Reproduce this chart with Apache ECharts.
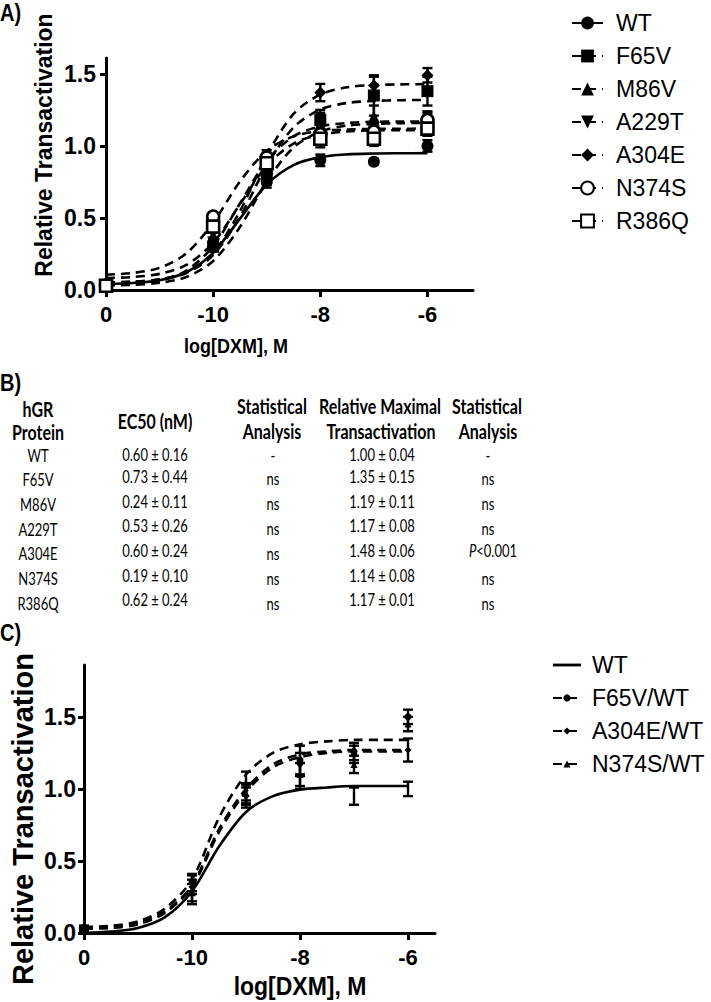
<!DOCTYPE html>
<html><head><meta charset="utf-8">
<script src="https://cdn.jsdelivr.net/npm/echarts@6/dist/echarts.min.js"></script>
<style>html,body{margin:0;padding:0;background:#fff}#c{width:711px;height:1002px}</style>
</head><body><div id="c"></div>
<script>
// ---------- DATA ----------
// x positions: -12 stands for the vehicle ("0") on the broken log axis
const xPoints = [-12, -10, -9, -8, -7, -6];
const curveX = [-12, -11.5, -11, -10.5, -10, -9.5, -9, -8.5, -8, -7.5, -7, -6.5, -6];
const xTickValues = [-12, -10, -8, -6];
const xTickLabels = ['0', '-10', '-8', '-6'];
const yTickValues = [0, 0.5, 1.0, 1.5];
const xTitle = 'log[DXM], M';
const yTitle = 'Relative Transactivation';

// Panel A: variants
const namesA = ['WT', 'F65V', 'M86V', 'A229T', 'A304E', 'N374S', 'R386Q'];
const aWT = [0.03, 0.30, 0.75, 0.90, 0.89, 1.00];
const aF65V = [0.03, 0.30, 0.80, 1.18, 1.35, 1.38];
const aM86V = [0.03, 0.38, 0.85, 1.15, 1.20, 1.17];
const aA229T = [0.02, 0.33, 0.78, 1.12, 1.10, 1.15];
const aA304E = [0.03, 0.33, 0.82, 1.37, 1.42, 1.49];
const aN374S = [0.03, 0.51, 0.92, 1.08, 1.10, 1.18];
const aR386Q = [0.03, 0.44, 0.88, 1.05, 1.05, 1.12];
const aWTErr = [0.01, 0.02, 0.04, 0.04, 0.02, 0.04];
const aF65VErr = [0.01, 0.03, 0.05, 0.07, 0.14, 0.10];
const aM86VErr = [0.01, 0.04, 0.06, 0.08, 0.08, 0.06];
const aA229TErr = [0.01, 0.03, 0.05, 0.06, 0.05, 0.06];
const aA304EErr = [0.01, 0.03, 0.05, 0.06, 0.06, 0.05];
const aN374SErr = [0.01, 0.03, 0.05, 0.07, 0.06, 0.06];
const aR386QErr = [0.01, 0.04, 0.05, 0.06, 0.05, 0.05];
const aWTFit = [0.043, 0.049, 0.068, 0.123, 0.258, 0.495, 0.732, 0.867, 0.922, 0.941, 0.947, 0.949, 0.95];
const aF65VFit = [0.052, 0.057, 0.072, 0.118, 0.242, 0.507, 0.863, 1.128, 1.253, 1.298, 1.312, 1.317, 1.319];
const aM86VFit = [0.034, 0.041, 0.065, 0.134, 0.304, 0.60, 0.896, 1.066, 1.135, 1.159, 1.167, 1.169, 1.17];
const aA229TFit = [0.032, 0.036, 0.050, 0.090, 0.201, 0.437, 0.753, 0.989, 1.100, 1.141, 1.153, 1.158, 1.159];
const aA304EFit = [0.052, 0.058, 0.074, 0.124, 0.258, 0.547, 0.933, 1.222, 1.357, 1.407, 1.422, 1.427, 1.429];
const aN374SFit = [0.106, 0.118, 0.154, 0.254, 0.467, 0.753, 0.966, 1.066, 1.103, 1.114, 1.118, 1.119, 1.12];
const aR386QFit = [0.083, 0.090, 0.112, 0.174, 0.327, 0.595, 0.863, 1.016, 1.078, 1.100, 1.107, 1.109, 1.11];

// Panel C: co-transfections
const namesC = ['WT ', 'F65V/WT', 'A304E/WT', 'N374S/WT'];
const cWT = [0.02, 0.30, 0.95, 1.05, 0.95, 1.00];
const cF65V = [0.04, 0.35, 1.02, 1.20, 1.26, 1.50];
const cA304E = [0.04, 0.32, 0.95, 1.17, 1.24, 1.27];
const cN374S = [0.03, 0.28, 0.97, 1.10, 1.17, 1.45];
const cWTErr = [0.01, 0.10, 0.08, 0.05, 0.06, 0.05];
const cF65VErr = [0.01, 0.06, 0.10, 0.10, 0.06, 0.05];
const cA304EErr = [0.01, 0.05, 0.06, 0.08, 0.06, 0.08];
const cN374SErr = [0.01, 0.06, 0.07, 0.08, 0.06, 0.05];
const cWTFit = [0.0, 0.01, 0.035, 0.11, 0.29, 0.60, 0.84, 0.95, 0.995, 1.01, 1.02, 1.02, 1.02];
const cF65VFit = [0.04, 0.05, 0.08, 0.17, 0.37, 0.80, 1.10, 1.25, 1.31, 1.33, 1.34, 1.34, 1.34];
const cA304EFit = [0.04, 0.045, 0.07, 0.15, 0.33, 0.72, 1.0, 1.17, 1.24, 1.26, 1.27, 1.27, 1.27];
const cN374SFit = [0.03, 0.035, 0.06, 0.14, 0.32, 0.70, 0.98, 1.15, 1.22, 1.25, 1.26, 1.26, 1.26];

// Panel B: table
const tableProteins = ['WT', 'F65V', 'M86V', 'A229T', 'A304E', 'N374S', 'R386Q'];
const tableEC50 = ['0.60 ± 0.16', '0.73 ± 0.44', '0.24 ± 0.11', '0.53 ± 0.26', '0.60 ± 0.24', '0.19 ± 0.10', '0.62 ± 0.24'];
const tableStatEC50 = ['-', 'ns', 'ns', 'ns', 'ns', 'ns', 'ns'];
const tableRMT = ['1.00 ± 0.04', '1.35 ± 0.15', '1.19 ± 0.11', '1.17 ± 0.08', '1.48 ± 0.06', '1.14 ± 0.08', '1.17 ± 0.01'];
const tableStatRMT = ['-', 'ns', 'ns', 'ns', '{i|P}<0.001', 'ns', 'ns'];

// ---------- STYLES / LAYOUT ----------
const FONT = "'Liberation Sans', Arial, sans-serif";
const TFONT = "Lato, 'Open Sans', sans-serif";
const stylesA = {
  WT: {symbol: 'circle', dashed: false},
  F65V: {symbol: 'rect'},
  M86V: {symbol: 'triangle'},
  A229T: {symbol: 'triangle', rotate: 180},
  A304E: {symbol: 'diamond'},
  N374S: {symbol: 'circle', open: true},
  R386Q: {symbol: 'rect', open: true}
};
const seriesDefsA = [
  ['WT', aWT, aWTErr, aWTFit], ['F65V', aF65V, aF65VErr, aF65VFit], ['M86V', aM86V, aM86VErr, aM86VFit],
  ['A229T', aA229T, aA229TErr, aA229TFit], ['A304E', aA304E, aA304EErr, aA304EFit],
  ['N374S', aN374S, aN374SErr, aN374SFit], ['R386Q', aR386Q, aR386QErr, aR386QFit]
];
const seriesDefsC = [
  ['WT ', cWT, cWTErr, cWTFit, {symbol: 'none', dashed: false}],
  ['F65V/WT', cF65V, cF65VErr, cF65VFit, {symbol: 'circle'}],
  ['A304E/WT', cA304E, cA304EErr, cA304EFit, {symbol: 'diamond'}],
  ['N374S/WT', cN374S, cN374SErr, cN374SFit, {symbol: 'triangle'}]
];

const zip = (xs, ys) => xs.map((x, i) => [x, ys[i]]);

function errSeries(gridIdx, defs, z) {
  const data = [];
  defs.forEach(d => d[1].forEach((m, i) => data.push([xPoints[i], m - d[2][i], m + d[2][i]])));
  return {
    type: 'custom', xAxisIndex: gridIdx, yAxisIndex: gridIdx, silent: true, z: z,
    encode: {x: 0, y: [1, 2]}, data: data,
    renderItem: (params, api) => {
      const x = api.value(0);
      const p1 = api.coord([x, api.value(1)]);
      const p2 = api.coord([x, api.value(2)]);
      const w = 5, st = {stroke: '#000', lineWidth: 2.4};
      return {type: 'group', children: [
        {type: 'line', shape: {x1: p1[0], y1: p1[1], x2: p2[0], y2: p2[1]}, style: st},
        {type: 'line', shape: {x1: p1[0] - w, y1: p1[1], x2: p1[0] + w, y2: p1[1]}, style: st},
        {type: 'line', shape: {x1: p2[0] - w, y1: p2[1], x2: p2[0] + w, y2: p2[1]}, style: st}
      ]};
    }
  };
}

const series = [];
series.push(errSeries(0, seriesDefsA, 3));
seriesDefsA.forEach(d => {
  const st = stylesA[d[0]];
  const item = st.open ? {color: '#fff', borderColor: '#000', borderWidth: 2.6, opacity: 1} : {color: '#000', opacity: 1};
  series.push({
    type: 'line', name: d[0], xAxisIndex: 0, yAxisIndex: 0, data: zip(curveX, d[3]),
    smooth: 0.3, showSymbol: false, symbol: st.symbol, symbolRotate: st.rotate || 0,
    lineStyle: {color: '#000', width: 2.6, type: st.dashed === false ? 'solid' : [9, 6]},
    itemStyle: item, silent: true, z: 2
  });
  series.push({
    type: 'scatter', name: d[0] + ' data', xAxisIndex: 0, yAxisIndex: 0, data: zip(xPoints, d[1]),
    symbol: st.symbol, symbolRotate: st.rotate || 0, symbolSize: 12, itemStyle: item, silent: true, z: 4
  });
});
series.push(errSeries(1, seriesDefsC, 3));
seriesDefsC.forEach(d => {
  const st = d[4];
  series.push({
    type: 'line', name: d[0], xAxisIndex: 1, yAxisIndex: 1, data: zip(curveX, d[3]),
    smooth: 0.3, showSymbol: false, symbol: st.symbol,
    lineStyle: {color: '#000', width: 2.6, type: st.dashed === false ? 'solid' : [9, 6]},
    itemStyle: {color: '#000', opacity: 1}, silent: true, z: 2
  });
  if (st.symbol !== 'none') {
    series.push({
      type: 'scatter', name: d[0] + ' data', xAxisIndex: 1, yAxisIndex: 1, data: zip(xPoints, d[1]),
      symbol: st.symbol, symbolSize: 7, itemStyle: {color: '#000', opacity: 1}, silent: true, z: 4
    });
  }
});

function xAxisCfg(gi, max) {
  return {
    type: 'value', gridIndex: gi, min: -12, max: max, interval: 2,
    axisLine: {onZero: false, lineStyle: {color: '#000', width: 3}},
    axisTick: {customValues: xTickValues, length: 7, lineStyle: {color: '#000', width: 3}},
    splitLine: {show: false},
    axisLabel: {customValues: xTickValues, margin: 13, fontSize: 22, fontWeight: 'bold', color: '#000', fontFamily: FONT,
      formatter: v => { const k = xTickValues.indexOf(v); return k >= 0 ? xTickLabels[k] : ''; }}
  };
}
function yAxisCfg(gi, max, margin) {
  return {
    type: 'value', gridIndex: gi, min: 0, max: max, interval: 0.5,
    axisLine: {lineStyle: {color: '#000', width: 3}},
    axisTick: {customValues: yTickValues, length: 6, lineStyle: {color: '#000', width: 3}},
    splitLine: {show: false},
    axisLabel: {customValues: yTickValues, margin: margin, fontSize: 23, fontWeight: 'bold', color: '#000', fontFamily: FONT,
      formatter: v => v.toFixed(1)}
  };
}

const graphics = [];
function label(x, y, text, font, opts) {
  graphics.push(Object.assign({
    type: 'text', x: x, y: y, silent: true,
    style: {text: text, x: 0, y: 0, align: 'center', verticalAlign: 'middle', fill: '#000', font: font}
  }, opts || {}));
}
// axis titles
label(236, 346, xTitle, 'bold 18px ' + FONT, {scaleY: 1.15});
label(44, 145, yTitle, 'bold 23px ' + FONT, {rotation: Math.PI / 2});
label(300, 986, xTitle, 'bold 23px ' + FONT, {scaleY: 1.1});
label(23, 819, yTitle, 'bold 29px ' + FONT, {rotation: Math.PI / 2});
// panel letters
[['A)', 13], ['B)', 383], ['C)', 633]].forEach(p => graphics.push({
  type: 'text', x: 0, y: p[1], scaleY: 1.2, silent: true,
  style: {text: p[0], x: 0, y: 0, align: 'left', verticalAlign: 'middle', fill: '#000', font: 'bold 20px ' + FONT}
}));
// table
const HB = 'bold 16px ' + TFONT, BD = '13px ' + TFONT;
const hs = {scaleY: 1.3}, bs = {scaleY: 1.4};
label(38, 409, 'hGR', HB, hs);
label(38, 432, 'Protein', HB, hs);
label(155, 421, 'EC50 (nM)', HB, hs);
label(272, 406, 'Statistical', HB, hs);
label(272, 431, 'Analysis', HB, hs);
label(380, 406, 'Relative Maximal', HB, hs);
label(381, 431, 'Transactivation', HB, hs);
label(487, 406, 'Statistical', HB, hs);
label(488, 431, 'Analysis', HB, hs);
const rowNameY = [455, 479, 504, 529, 553, 578, 603];
const rowValY = [454, 476, 501, 525, 550, 575, 599];
const rowNsY = [455, 478, 503, 528, 553, 578, 603];
tableProteins.forEach((p, i) => {
  label(38, rowNameY[i], p, BD, bs);
  label(155, rowValY[i], tableEC50[i], BD, bs);
  label(273, rowNsY[i], tableStatEC50[i], BD, bs);
  label(382, rowValY[i], tableRMT[i], BD, bs);
  const s = tableStatRMT[i];
  if (s.indexOf('{i|') === 0) {
    graphics.push({
      type: 'text', x: 493, y: rowValY[i], scaleY: 1.4, silent: true,
      style: {text: s, x: 0, y: 0, align: 'center', verticalAlign: 'middle', fill: '#000', font: BD,
        rich: {i: {fontStyle: 'italic', fontSize: 13, fontFamily: TFONT, fill: '#000'}}}
    });
  } else {
    label(488, rowNsY[i], s, BD, bs);
  }
});

const legendText = {fontSize: 23, fontFamily: FONT, color: '#000', lineHeight: 24};
const option = {
  animation: false,
  backgroundColor: '#fff',
  grid: [
    {left: 106, top: 58, width: 367, height: 232},
    {left: 84, top: 665, width: 351, height: 268}
  ],
  xAxis: [xAxisCfg(0, -5.15), xAxisCfg(1, -5.5)],
  yAxis: [yAxisCfg(0, 1.61, 10), yAxisCfg(1, 1.86, 8)],
  legend: [
    {left: 566, top: 6, orient: 'vertical', itemWidth: 31, itemHeight: 16, itemGap: 9, selectedMode: false,
      data: namesA, textStyle: Object.assign({padding: [0, 0, 0, 8]}, legendText)},
    {left: 547, top: 648, orient: 'vertical', itemWidth: 28, itemHeight: 9, itemGap: 9, selectedMode: false,
      data: [{name: namesC[0], icon: 'path://M0,0H30V3H0Z'}].concat(namesC.slice(1)),
      textStyle: Object.assign({padding: [0, 0, 0, 6]}, legendText)}
  ],
  graphic: graphics,
  series: series
};
const chart = echarts.init(document.getElementById('c'), null, {renderer: 'svg'});
chart.setOption(option);
</script></body></html>
